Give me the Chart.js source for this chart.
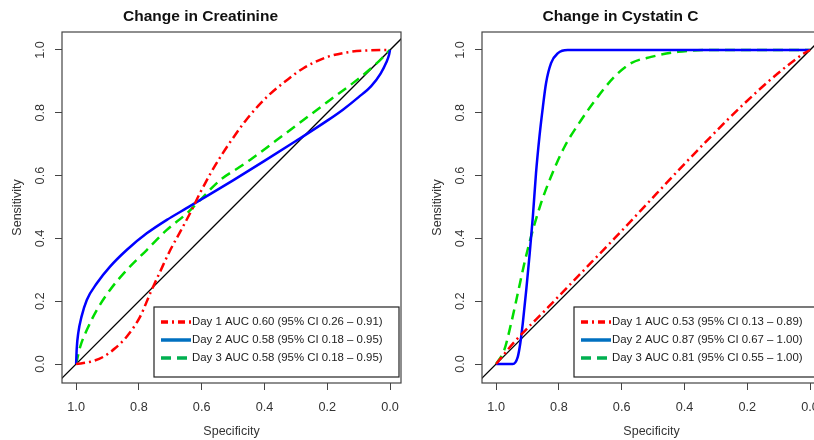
<!DOCTYPE html>
<html>
<head>
<meta charset="utf-8">
<script src="https://cdn.jsdelivr.net/npm/chart.js@4.4.1/dist/chart.umd.min.js"></script>
<style>
  html, body { margin: 0; padding: 0; background: #fff; overflow: hidden; }
  #wrap { position: relative; width: 814px; height: 440px; }
  canvas { position: absolute; top: 0; }
  #creat { left: 0; }
  #cys { left: 414px; }
</style>
</head>
<body>
<div id="wrap">
  <canvas id="creat" width="410" height="440"></canvas>
  <canvas id="cys" width="416" height="440"></canvas>
</div>
<script>
// axis ticks
const tickValues = [0, 0.2, 0.4, 0.6, 0.8, 1.0];

// chance line (sensitivity = 1 - specificity)
const chanceSpec = [1.1, -0.1];
const chanceSens = [-0.1, 1.1];

// Change in Creatinine
const creatDay1Spec = [1.0, 0.955, 0.913, 0.876, 0.839, 0.796, 0.764, 0.732, 0.70, 0.669, 0.637, 0.605, 0.57, 0.535, 0.50, 0.46, 0.42, 0.38, 0.33, 0.276, 0.202, 0.127, 0.064, 0.0];
const creatDay1Sens = [0.0, 0.007, 0.023, 0.05, 0.087, 0.151, 0.225, 0.295, 0.363, 0.42, 0.48, 0.545, 0.61, 0.668, 0.72, 0.775, 0.822, 0.862, 0.903, 0.942, 0.977, 0.994, 0.999, 1.0];
const creatDay2Spec = [1.0, 0.998, 0.993, 0.983, 0.966, 0.934, 0.892, 0.839, 0.775, 0.711, 0.647, 0.6, 0.5, 0.4, 0.3, 0.2, 0.15, 0.1, 0.06, 0.03, 0.012, 0.003, 0.0];
const creatDay2Sens = [0.0, 0.05, 0.1, 0.15, 0.204, 0.257, 0.31, 0.363, 0.416, 0.459, 0.497, 0.525, 0.585, 0.647, 0.71, 0.775, 0.81, 0.85, 0.885, 0.925, 0.96, 0.985, 1.0];
const creatDay3Spec = [1.0, 0.987, 0.966, 0.934, 0.892, 0.839, 0.775, 0.711, 0.647, 0.605, 0.541, 0.478, 0.446, 0.361, 0.276, 0.191, 0.106, 0.042, 0.0];
const creatDay3Sens = [0.0, 0.055, 0.108, 0.172, 0.236, 0.299, 0.363, 0.427, 0.48, 0.522, 0.586, 0.628, 0.65, 0.713, 0.777, 0.841, 0.904, 0.958, 1.0];
const creatLabels = [
  'Day 1 AUC 0.60 (95% CI 0.26 \u2013 0.91)',
  'Day 2 AUC 0.58 (95% CI 0.18 \u2013 0.95)',
  'Day 3 AUC 0.58 (95% CI 0.18 \u2013 0.95)'
];

// Change in Cystatin C
const cysDay1Spec = [1.0, 0.942, 0.835, 0.729, 0.623, 0.538, 0.421, 0.315, 0.209, 0.103, 0.018, 0.0];
const cysDay1Sens = [0.0, 0.07, 0.18, 0.29, 0.40, 0.49, 0.615, 0.725, 0.83, 0.925, 0.99, 1.0];
const cysDay2Spec = [1.0, 0.947, 0.931, 0.923, 0.915, 0.904, 0.894, 0.883, 0.873, 0.862, 0.851, 0.841, 0.825, 0.803, 0.772, 0.0];
const cysDay2Sens = [0.0, 0.0, 0.023, 0.066, 0.13, 0.236, 0.342, 0.469, 0.607, 0.724, 0.819, 0.894, 0.958, 0.99, 1.0, 1.0];
const cysDay3Spec = [1.0, 0.974, 0.952, 0.931, 0.91, 0.889, 0.857, 0.825, 0.782, 0.729, 0.676, 0.623, 0.57, 0.506, 0.421, 0.315, 0.0];
const cysDay3Sens = [0.0, 0.045, 0.13, 0.225, 0.321, 0.405, 0.512, 0.597, 0.692, 0.777, 0.851, 0.915, 0.958, 0.978, 0.994, 1.0, 1.0];
const cysLabels = [
  'Day 1 AUC 0.53 (95% CI 0.13 \u2013 0.89)',
  'Day 2 AUC 0.87 (95% CI 0.67 \u2013 1.00)',
  'Day 3 AUC 0.81 (95% CI 0.55 \u2013 1.00)'
];

const lineColors = ['#ff0000', '#0000ff', '#00dd00'];
const legendColors = ['#ff0000', '#0070c0', '#00b050'];
const dashes = [[9, 4, 2, 4], [], [10, 6]];

Chart.defaults.font.family = '"Liberation Sans", Arial, sans-serif';

const zip = (xs, ys) => xs.map((x, i) => ({ x: x, y: ys[i] }));

// frame around the plot region
const plotBox = {
  id: 'plotBox',
  afterDraw(chart) {
    const { ctx, chartArea: a } = chart;
    ctx.save();
    ctx.strokeStyle = '#444';
    ctx.lineWidth = 1.2;
    ctx.strokeRect(a.left, a.top, a.right - a.left, a.bottom - a.top);
    ctx.restore();
  }
};

// boxed legend in the lower right corner
const boxLegend = {
  id: 'boxLegend',
  afterDatasetsDraw(chart, args, opts) {
    const { ctx, chartArea: a } = chart;
    const x0 = a.right - 2 - opts.width;
    const y0 = a.bottom - 6 - opts.height;
    ctx.save();
    ctx.fillStyle = '#fff';
    ctx.fillRect(x0, y0, opts.width, opts.height);
    ctx.strokeStyle = '#222';
    ctx.lineWidth = 1.2;
    ctx.strokeRect(x0, y0, opts.width, opts.height);
    opts.labels.forEach((lab, i) => {
      const y = y0 + 15 + i * 18;
      ctx.beginPath();
      ctx.setLineDash(i === 0 ? [7, 4, 2, 4] : dashes[i]);
      ctx.strokeStyle = legendColors[i];
      ctx.lineWidth = 3.5;
      ctx.moveTo(x0 + 7, y);
      ctx.lineTo(x0 + 37, y);
      ctx.stroke();
      ctx.setLineDash([]);
      ctx.fillStyle = '#222';
      ctx.font = '11.4px "Liberation Sans", Arial, sans-serif';
      ctx.textBaseline = 'middle';
      ctx.textAlign = 'left';
      ctx.fillText(lab, x0 + 38, y);
    });
    ctx.restore();
  }
};

function makeRoc(id, title, series, labels, padLeft) {
  const datasets = series.map((s, i) => ({
    label: labels[i],
    data: zip(s[0], s[1]),
    borderColor: lineColors[i],
    borderWidth: 2.5,
    borderDash: dashes[i],
    pointRadius: 0,
    cubicInterpolationMode: 'monotone',
    fill: false
  }));
  datasets.push({
    label: 'chance',
    data: zip(chanceSpec, chanceSens),
    borderColor: '#000',
    borderWidth: 1.3,
    pointRadius: 0,
    tension: 0,
    fill: false
  });

  const tickFont = { size: 12.7 };
  return new Chart(document.getElementById(id), {
    type: 'line',
    data: { datasets: datasets },
    options: {
      responsive: false,
      animation: false,
      devicePixelRatio: 1,
      layout: { padding: { left: padLeft, right: 9, top: 0, bottom: 0 } },
      plugins: {
        legend: { display: false },
        tooltip: { enabled: false },
        title: {
          display: true,
          text: title,
          color: '#111',
          font: { size: 15.5, weight: 'bold' },
          padding: { top: 7, bottom: 6.4 }
        },
        boxLegend: { labels: labels, width: 245, height: 70 }
      },
      scales: {
        x: {
          type: 'linear',
          reverse: true,
          min: -0.035,
          max: 1.045,
          afterBuildTicks: s => { s.ticks = tickValues.map(v => ({ value: v })); },
          afterFit: s => { s.height = 57; },
          grid: { drawOnChartArea: false, drawTicks: true, tickLength: 7, tickColor: '#444' },
          border: { display: false },
          ticks: { color: '#333', font: tickFont, padding: 10, maxRotation: 0, callback: v => v.toFixed(1) },
          title: { display: true, text: 'Specificity', color: '#333', font: { size: 12.5 }, padding: { top: 0, bottom: 0.5 } }
        },
        y: {
          type: 'linear',
          min: -0.0605,
          max: 1.0573,
          afterBuildTicks: s => { s.ticks = tickValues.map(v => ({ value: v })); },
          afterFit: s => { s.width = 62; },
          grid: { drawOnChartArea: false, drawTicks: true, tickLength: 7, tickColor: '#444' },
          border: { display: false },
          ticks: { color: '#333', font: tickFont, padding: 6, minRotation: 90, maxRotation: 90, crossAlign: 'center', callback: v => v.toFixed(1) },
          title: { display: true, text: 'Sensitivity', color: '#333', font: { size: 12.5 }, padding: { top: 10.5, bottom: 0 } }
        }
      }
    },
    plugins: [plotBox, boxLegend]
  });
}

makeRoc('creat', 'Change in Creatinine',
  [[creatDay1Spec, creatDay1Sens], [creatDay2Spec, creatDay2Sens], [creatDay3Spec, creatDay3Sens]],
  creatLabels, 0);

makeRoc('cys', 'Change in Cystatin C',
  [[cysDay1Spec, cysDay1Sens], [cysDay2Spec, cysDay2Sens], [cysDay3Spec, cysDay3Sens]],
  cysLabels, 6);
</script>
</body>
</html>
